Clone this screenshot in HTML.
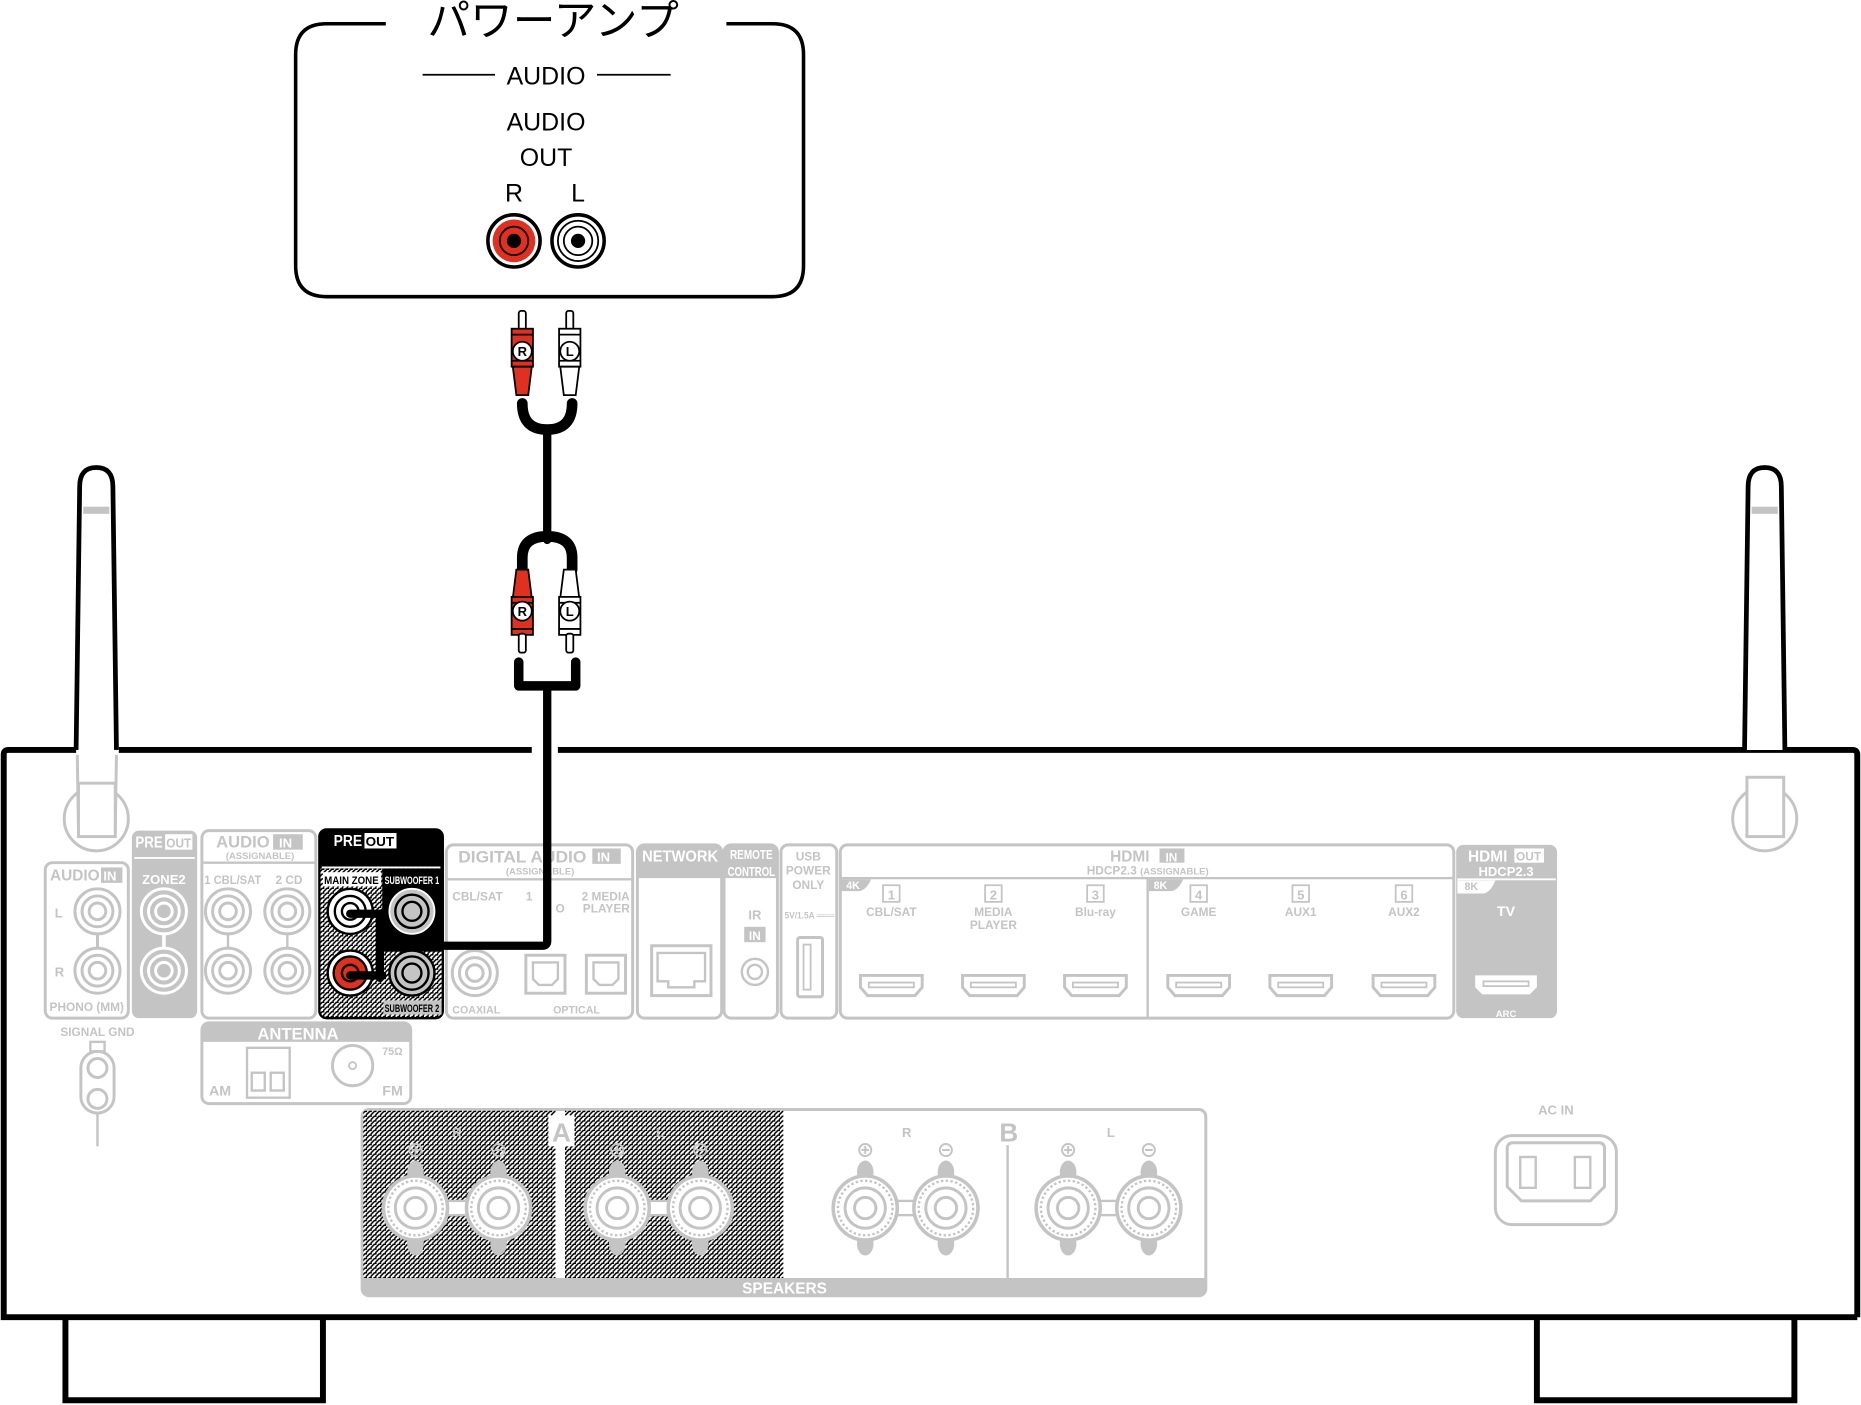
<!DOCTYPE html>
<html><head><meta charset="utf-8"><style>
html,body{margin:0;padding:0;background:#fff;}
svg{display:block;}
text{font-family:"Liberation Sans","Noto Sans CJK JP",sans-serif;}
</style></head><body>
<svg width="1861" height="1405" viewBox="0 0 1568 1184" xmlns="http://www.w3.org/2000/svg">
<defs>
<pattern id="hat" width="4" height="4" patternUnits="userSpaceOnUse">
<rect width="4" height="4" fill="#fff"/><path d="M0 4L4 0" stroke="#000" stroke-width="1.3"/><rect x="0" y="0" width="1.2" height="1.2" fill="#000"/>
</pattern>
<g id="gj"><circle r="19" fill="#fff" stroke="#c4c4c4" stroke-width="2.5"/><circle r="13" fill="none" stroke="#c4c4c4" stroke-width="2.5"/><circle r="7" fill="none" stroke="#c4c4c4" stroke-width="2.5"/></g>
<g id="term">
<ellipse cx="0" cy="-30" rx="7" ry="10" fill="#c4c4c4"/><ellipse cx="0" cy="30" rx="7" ry="10" fill="#c4c4c4"/>
<circle r="27" fill="#fff" stroke="#c4c4c4" stroke-width="3"/><circle r="23" fill="none" stroke="#c4c4c4" stroke-width="2" stroke-dasharray="2 2"/><circle r="17" fill="none" stroke="#c4c4c4" stroke-width="2.5"/><circle r="9" fill="none" stroke="#c4c4c4" stroke-width="2.5"/>
</g>
<g id="hdmi"><path d="M-26 -8H26V2L20 9H-20L-26 2Z" fill="#fff" stroke="#c4c4c4" stroke-width="2.5"/><rect x="-19" y="-2" width="38" height="4" fill="none" stroke="#c4c4c4" stroke-width="1.5"/></g>
</defs>

<!-- power amp box -->
<path d="M325 20H275Q249 20 249 46V224Q249 250 275 250H651Q677 250 677 224V46Q677 20 651 20H612" fill="none" stroke="#000" stroke-width="3"/>
<text x="466" y="30" font-size="36" text-anchor="middle">パワーアンプ</text>
<line x1="356" y1="63" x2="417" y2="63" stroke="#000" stroke-width="1.5"/>
<line x1="503" y1="63" x2="565" y2="63" stroke="#000" stroke-width="1.5"/>
<text x="460" y="71" font-size="21" text-anchor="middle">AUDIO</text>
<text x="460" y="110" font-size="21" text-anchor="middle">AUDIO</text>
<text x="460" y="140" font-size="21" text-anchor="middle">OUT</text>
<text x="433" y="170" font-size="21" text-anchor="middle">R</text>
<text x="487" y="170" font-size="21" text-anchor="middle">L</text>
<circle cx="433" cy="203" r="22" fill="#fff" stroke="#000" stroke-width="3"/><circle cx="433" cy="203" r="18" fill="#e03020"/><circle cx="433" cy="203" r="12" fill="none" stroke="#000" stroke-width="1.5"/><circle cx="433" cy="203" r="6" fill="#000"/>
<circle cx="487" cy="203" r="22" fill="#fff" stroke="#000" stroke-width="3"/><circle cx="487" cy="203" r="17" fill="none" stroke="#000" stroke-width="1.5"/><circle cx="487" cy="203" r="12" fill="none" stroke="#000" stroke-width="1.5"/><circle cx="487" cy="203" r="6" fill="#000"/>

<!-- device body -->
<path d="M1565 1110V636Q1565 632 1561 632H470M448 632H100M64 632H7Q3 632 3 636V1110H1565" fill="none" stroke="#000" stroke-width="5"/>
<path d="M55 1112V1180H272V1112" fill="none" stroke="#000" stroke-width="5"/>
<path d="M1295 1112V1180H1512V1112" fill="none" stroke="#000" stroke-width="5"/>
<!-- antennas -->
<g>
<path d="M64 632L67 410Q67 394 81 394Q95 394 95 410L98 632" fill="#fff" stroke="#000" stroke-width="4"/>
<rect x="70" y="427" width="22" height="6" fill="#c4c4c4"/>
<path d="M65 636L66 700H97L98 636" fill="#fff" stroke="#c4c4c4" stroke-width="2.5"/>
<circle cx="81" cy="690" r="27" fill="none" stroke="#c4c4c4" stroke-width="2.5"/>
<rect x="66" y="660" width="31" height="45" fill="#fff" stroke="#c4c4c4" stroke-width="2.5"/>
<path d="M1470 632L1473 410Q1473 394 1487 394Q1501 394 1501 410L1504 632" fill="#fff" stroke="#000" stroke-width="4"/>
<rect x="1476" y="427" width="22" height="6" fill="#c4c4c4"/>
<circle cx="1487" cy="690" r="27" fill="none" stroke="#c4c4c4" stroke-width="2.5"/>
<rect x="1472" y="655" width="31" height="50" fill="#fff" stroke="#c4c4c4" stroke-width="2.5"/>
</g>

<g font-weight="bold" fill="#c4c4c4">
<!-- phono -->
<rect x="38" y="727" width="70" height="131" rx="6" fill="#fff" stroke="#c4c4c4" stroke-width="2.5"/>
<text x="42" y="742" font-size="13">AUDIO</text><rect x="85" y="731" width="18" height="13" fill="#c4c4c4"/><text x="87" y="742" font-size="11" fill="#fff">IN</text>
<line x1="82" y1="768" x2="82" y2="818" stroke="#c4c4c4" stroke-width="2.5"/>
<use href="#gj" x="82" y="768"/><use href="#gj" x="82" y="818"/>
<text x="46" y="773" font-size="11">L</text><text x="46" y="823" font-size="11">R</text>
<text x="73" y="852" font-size="10" text-anchor="middle">PHONO (MM)</text>
<text x="82" y="873" font-size="10" text-anchor="middle">SIGNAL GND</text>
<rect x="76" y="878" width="12" height="8" fill="none" stroke="#c4c4c4" stroke-width="2"/>
<rect x="68" y="886" width="28" height="52" rx="14" fill="none" stroke="#c4c4c4" stroke-width="2.5"/>
<circle cx="82" cy="900" r="8" fill="none" stroke="#c4c4c4" stroke-width="2.5"/><circle cx="82" cy="926" r="8" fill="none" stroke="#c4c4c4" stroke-width="2.5"/>
<line x1="82" y1="938" x2="82" y2="966" stroke="#c4c4c4" stroke-width="2"/>
<!-- zone2 -->
<rect x="111" y="700" width="55" height="158" rx="6" fill="#c4c4c4"/>
<text x="114" y="714" font-size="13" fill="#fff" textLength="23" lengthAdjust="spacingAndGlyphs">PRE</text><rect x="139" y="703" width="23" height="13" fill="#fff"/><text x="140" y="714" font-size="11" textLength="21" lengthAdjust="spacingAndGlyphs">OUT</text>
<line x1="113" y1="723" x2="164" y2="723" stroke="#fff" stroke-width="1.5"/>
<text x="138" y="745" font-size="11" fill="#fff" text-anchor="middle">ZONE2</text>
<line x1="138" y1="768" x2="138" y2="818" stroke="#fff" stroke-width="3"/>
<g><circle cx="138" cy="768" r="19" fill="#c4c4c4" stroke="#fff" stroke-width="2.5"/><circle cx="138" cy="768" r="13" fill="none" stroke="#fff" stroke-width="2.5"/><circle cx="138" cy="768" r="7" fill="none" stroke="#fff" stroke-width="2.5"/></g>
<g><circle cx="138" cy="818" r="19" fill="#c4c4c4" stroke="#fff" stroke-width="2.5"/><circle cx="138" cy="818" r="13" fill="none" stroke="#fff" stroke-width="2.5"/><circle cx="138" cy="818" r="7" fill="none" stroke="#fff" stroke-width="2.5"/></g>
<!-- audio in assignable -->
<rect x="170" y="700" width="96" height="158" rx="6" fill="#fff" stroke="#c4c4c4" stroke-width="2.5"/>
<text x="182" y="714" font-size="14">AUDIO</text><rect x="230" y="703" width="25" height="13" fill="#c4c4c4"/><text x="235" y="714" font-size="11" fill="#fff">IN</text>
<text x="219" y="724" font-size="8" text-anchor="middle">(ASSIGNABLE)</text>
<line x1="171" y1="727" x2="265" y2="727" stroke="#c4c4c4" stroke-width="2"/>
<text x="172" y="745" font-size="10" textLength="48" lengthAdjust="spacingAndGlyphs">1 CBL/SAT</text><text x="232" y="745" font-size="10">2  CD</text>
<line x1="192" y1="768" x2="192" y2="818" stroke="#c4c4c4" stroke-width="2"/><line x1="242" y1="768" x2="242" y2="818" stroke="#c4c4c4" stroke-width="2"/>
<use href="#gj" x="192" y="768"/><use href="#gj" x="192" y="818"/><use href="#gj" x="242" y="768"/><use href="#gj" x="242" y="818"/>
<!-- antenna -->
<rect x="170" y="862" width="176" height="68" rx="6" fill="#fff" stroke="#c4c4c4" stroke-width="2.5"/>
<path d="M170 878V868Q170 862 176 862H340Q346 862 346 868V878Z" fill="#c4c4c4"/>
<text x="251" y="876" font-size="14" fill="#fff" text-anchor="middle">ANTENNA</text>
<text x="176" y="923" font-size="12">AM</text><text x="322" y="923" font-size="12">FM</text><text x="322" y="889" font-size="9">75Ω</text>
<rect x="208" y="883" width="36" height="42" fill="none" stroke="#c4c4c4" stroke-width="2"/>
<rect x="212" y="904" width="11" height="15" fill="none" stroke="#c4c4c4" stroke-width="2"/><rect x="228" y="904" width="11" height="15" fill="none" stroke="#c4c4c4" stroke-width="2"/>
<circle cx="297" cy="898" r="17" fill="none" stroke="#c4c4c4" stroke-width="2.5"/><circle cx="297" cy="898" r="3" fill="none" stroke="#c4c4c4" stroke-width="1.5"/>
<!-- digital audio in -->
<rect x="376" y="712" width="157" height="146" rx="6" fill="#fff" stroke="#c4c4c4" stroke-width="2.5"/>
<text x="386" y="727" font-size="14" textLength="108" lengthAdjust="spacingAndGlyphs">DIGITAL AUDIO</text><rect x="499" y="715" width="24" height="13" fill="#c4c4c4"/><text x="503" y="726" font-size="11" fill="#fff">IN</text>
<text x="455" y="737" font-size="8" text-anchor="middle">(ASSIGNABLE)</text>
<line x1="377" y1="741" x2="532" y2="741" stroke="#c4c4c4" stroke-width="2"/>
<text x="381" y="759" font-size="10">CBL/SAT</text><text x="443" y="759" font-size="10">1</text><text x="490" y="759" font-size="10">2 MEDIA</text><text x="491" y="769" font-size="10">PLAYER</text><text x="468" y="769" font-size="10">O</text>
<use href="#gj" x="400" y="820"/>
<rect x="443" y="805" width="33" height="32" fill="#fff" stroke="#c4c4c4" stroke-width="2.5"/><path d="M449 811H470V825L465 830H454L449 825Z" fill="none" stroke="#c4c4c4" stroke-width="2"/>
<rect x="494" y="805" width="33" height="32" fill="#fff" stroke="#c4c4c4" stroke-width="2.5"/><path d="M500 811H521V825L516 830H505L500 825Z" fill="none" stroke="#c4c4c4" stroke-width="2"/>
<text x="381" y="854" font-size="9">COAXIAL</text><text x="466" y="854" font-size="9">OPTICAL</text>
<!-- network -->
<rect x="537" y="712" width="71" height="146" rx="6" fill="#fff" stroke="#c4c4c4" stroke-width="2.5"/>
<path d="M537 740V718Q537 712 543 712H602Q608 712 608 718V740Z" fill="#c4c4c4"/>
<text x="573" y="726" font-size="13" fill="#fff" text-anchor="middle" textLength="64" lengthAdjust="spacingAndGlyphs">NETWORK</text>
<rect x="549" y="797" width="50" height="42" fill="none" stroke="#c4c4c4" stroke-width="2.5"/><path d="M554 803H594V827H585V832H563V827H554Z" fill="none" stroke="#c4c4c4" stroke-width="2"/>
<!-- remote -->
<rect x="610" y="712" width="45" height="146" rx="6" fill="#fff" stroke="#c4c4c4" stroke-width="2.5"/>
<path d="M610 740V718Q610 712 616 712H649Q655 712 655 718V740Z" fill="#c4c4c4"/>
<text x="633" y="724" font-size="11" fill="#fff" text-anchor="middle" textLength="36" lengthAdjust="spacingAndGlyphs">REMOTE</text><text x="633" y="738" font-size="11" fill="#fff" text-anchor="middle" textLength="40" lengthAdjust="spacingAndGlyphs">CONTROL</text>
<text x="636" y="775" font-size="11" text-anchor="middle">IR</text><rect x="627" y="781" width="18" height="13" fill="#c4c4c4"/><text x="636" y="792" font-size="10" fill="#fff" text-anchor="middle">IN</text>
<circle cx="636" cy="819" r="11" fill="none" stroke="#c4c4c4" stroke-width="2"/><circle cx="636" cy="819" r="6" fill="none" stroke="#c4c4c4" stroke-width="2"/>
<!-- usb -->
<rect x="658" y="712" width="47" height="146" rx="6" fill="#fff" stroke="#c4c4c4" stroke-width="2.5"/>
<text x="681" y="725" font-size="10" text-anchor="middle">USB</text><text x="681" y="737" font-size="10" text-anchor="middle">POWER</text><text x="681" y="749" font-size="10" text-anchor="middle">ONLY</text>
<text x="661" y="774" font-size="8" textLength="42" lengthAdjust="spacingAndGlyphs">5V/1.5A ═══</text>
<rect x="672" y="790" width="21" height="50" rx="2" fill="none" stroke="#c4c4c4" stroke-width="2.5"/><rect x="677" y="796" width="6" height="38" fill="none" stroke="#c4c4c4" stroke-width="1.5"/>
<!-- hdmi in -->
<rect x="708" y="712" width="517" height="146" rx="6" fill="#fff" stroke="#c4c4c4" stroke-width="2.5"/>
<line x1="709" y1="740" x2="1224" y2="740" stroke="#c4c4c4" stroke-width="2"/>
<line x1="967" y1="740" x2="967" y2="858" stroke="#c4c4c4" stroke-width="2"/>
<text x="952" y="726" font-size="13" text-anchor="middle">HDMI</text><rect x="977" y="715" width="21" height="12" fill="#c4c4c4"/><text x="987" y="726" font-size="10" fill="#fff" text-anchor="middle">IN</text>
<text x="967" y="737" font-size="10" text-anchor="middle">HDCP2.3 <tspan font-size="8">(ASSIGNABLE)</tspan></text>
<path d="M709 741H734Q730 750 724 751H709Z" fill="#c4c4c4"/><text x="713" y="749" font-size="9" fill="#fff">4K</text>
<path d="M968 741H997Q993 750 987 751H968Z" fill="#c4c4c4"/><text x="972" y="749" font-size="9" fill="#fff">8K</text>
<g font-size="11" text-anchor="middle">
<rect x="744" y="746" width="14" height="14" fill="none" stroke="#c4c4c4" stroke-width="1.5"/><text x="751" y="758">1</text><text x="751" y="772" font-size="10">CBL/SAT</text>
<rect x="830" y="746" width="14" height="14" fill="none" stroke="#c4c4c4" stroke-width="1.5"/><text x="837" y="758">2</text><text x="837" y="772" font-size="10">MEDIA</text><text x="837" y="783" font-size="10">PLAYER</text>
<rect x="916" y="746" width="14" height="14" fill="none" stroke="#c4c4c4" stroke-width="1.5"/><text x="923" y="758">3</text><text x="923" y="772" font-size="10">Blu-ray</text>
<rect x="1003" y="746" width="14" height="14" fill="none" stroke="#c4c4c4" stroke-width="1.5"/><text x="1010" y="758">4</text><text x="1010" y="772" font-size="10">GAME</text>
<rect x="1089" y="746" width="14" height="14" fill="none" stroke="#c4c4c4" stroke-width="1.5"/><text x="1096" y="758">5</text><text x="1096" y="772" font-size="10">AUX1</text>
<rect x="1176" y="746" width="14" height="14" fill="none" stroke="#c4c4c4" stroke-width="1.5"/><text x="1183" y="758">6</text><text x="1183" y="772" font-size="10">AUX2</text>
</g>
<use href="#hdmi" x="751" y="830"/><use href="#hdmi" x="837" y="830"/><use href="#hdmi" x="923" y="830"/><use href="#hdmi" x="1010" y="830"/><use href="#hdmi" x="1096" y="830"/><use href="#hdmi" x="1183" y="830"/>
<!-- hdmi out -->
<rect x="1227" y="712" width="85" height="146" rx="6" fill="#c4c4c4"/>
<text x="1237" y="726" font-size="13" fill="#fff">HDMI</text><rect x="1276" y="715" width="25" height="12" fill="#fff"/><text x="1288" y="725" font-size="10" text-anchor="middle">OUT</text>
<text x="1269" y="738" font-size="11" fill="#fff" text-anchor="middle">HDCP2.3</text>
<line x1="1228" y1="741" x2="1311" y2="741" stroke="#fff" stroke-width="1.5"/>
<path d="M1228 742H1260Q1256 752 1250 753H1228Z" fill="#fff"/><text x="1234" y="750" font-size="9">8K</text>
<text x="1269" y="772" font-size="12" fill="#fff" text-anchor="middle">TV</text>
<path d="M1243 822H1295V832L1289 838H1249L1243 832Z" fill="#fff"/><rect x="1250" y="827" width="38" height="4" fill="none" stroke="#c4c4c4" stroke-width="1.5"/>
<text x="1269" y="857" font-size="8" fill="#fff" text-anchor="middle">ARC</text>
<!-- AC IN -->
<text x="1311" y="939" font-size="11" text-anchor="middle">AC IN</text>
<rect x="1260" y="957" width="102" height="75" rx="14" fill="#fff" stroke="#c4c4c4" stroke-width="2.5"/>
<path d="M1275 963H1347Q1352 963 1352 968V1000L1340 1012H1282L1270 1000V968Q1270 963 1275 963Z" fill="none" stroke="#c4c4c4" stroke-width="2.5"/>
<rect x="1281" y="975" width="13" height="26" fill="none" stroke="#c4c4c4" stroke-width="2"/><rect x="1327" y="975" width="13" height="26" fill="none" stroke="#c4c4c4" stroke-width="2"/>
<!-- speakers -->
<rect x="305" y="935" width="711" height="157" rx="6" fill="#fff" stroke="#c4c4c4" stroke-width="2.5"/>
<rect x="306" y="936" width="162" height="141" fill="url(#hat)"/>
<rect x="476" y="936" width="184" height="141" fill="url(#hat)"/>
<path d="M305 1077H1016V1086Q1016 1092 1010 1092H311Q305 1092 305 1086Z" fill="#c4c4c4"/>
<text x="661" y="1090" font-size="13" fill="#fff" text-anchor="middle">SPEAKERS</text>
<line x1="849" y1="965" x2="849" y2="1077" stroke="#c4c4c4" stroke-width="2"/>
<rect x="462" y="940" width="22" height="26" fill="#fff"/><text x="473" y="962" font-size="22" text-anchor="middle">A</text>
<text x="850" y="962" font-size="22" text-anchor="middle">B</text>
<g font-size="11" text-anchor="middle"><text x="385" y="958">R</text><text x="556" y="958">L</text><text x="764" y="958">R</text><text x="936" y="958">L</text></g>
<g font-size="16" text-anchor="middle">
<text x="350" y="975">⊕</text><text x="420" y="975">⊖</text><text x="520" y="975">⊕</text><text x="590" y="975">⊖</text>
<text x="729" y="975">⊕</text><text x="797" y="975">⊖</text><text x="900" y="975">⊕</text><text x="968" y="975">⊖</text></g>
<rect x="375" y="1012" width="20" height="12" fill="#fff" stroke="#c4c4c4" stroke-width="2"/><rect x="545" y="1012" width="20" height="12" fill="#fff" stroke="#c4c4c4" stroke-width="2"/><rect x="753" y="1012" width="20" height="12" fill="#fff" stroke="#c4c4c4" stroke-width="2"/><rect x="924" y="1012" width="20" height="12" fill="#fff" stroke="#c4c4c4" stroke-width="2"/>
<use href="#term" x="350" y="1018"/><use href="#term" x="420" y="1018"/><use href="#term" x="520" y="1018"/><use href="#term" x="590" y="1018"/>
<use href="#term" x="729" y="1018"/><use href="#term" x="797" y="1018"/><use href="#term" x="900" y="1018"/><use href="#term" x="968" y="1018"/>
</g>

<!-- PRE OUT highlighted -->
<rect x="269" y="699" width="104" height="159" rx="6" fill="url(#hat)" stroke="#000" stroke-width="2"/>
<path d="M269 732V705Q269 699 275 699H367Q373 699 373 705V732Z" fill="#000"/>
<rect x="322" y="732" width="51" height="70" fill="#000"/>
<text x="281" y="713" font-size="13" font-weight="bold" fill="#fff" textLength="24" lengthAdjust="spacingAndGlyphs">PRE</text><rect x="307" y="702" width="27" height="13" fill="#fff"/><text x="320" y="713" font-size="11" font-weight="bold" text-anchor="middle" textLength="24" lengthAdjust="spacingAndGlyphs">OUT</text>
<line x1="271" y1="731" x2="371" y2="731" stroke="#fff" stroke-width="1.5"/>
<rect x="272" y="735" width="49" height="12" fill="#fff"/><text x="296" y="745" font-size="9" font-weight="bold" text-anchor="middle" textLength="46" lengthAdjust="spacingAndGlyphs">MAIN ZONE</text>
<text x="347" y="745" font-size="9" font-weight="bold" fill="#fff" text-anchor="middle" textLength="46" lengthAdjust="spacingAndGlyphs">SUBWOOFER 1</text>
<rect x="323" y="843" width="49" height="12" fill="#c4c4c4"/><text x="347" y="853" font-size="9" font-weight="bold" text-anchor="middle" textLength="46" lengthAdjust="spacingAndGlyphs">SUBWOOFER 2</text>
<circle cx="347" cy="768" r="19" fill="#c4c4c4" stroke="#fff" stroke-width="1.5"/><circle cx="347" cy="768" r="14" fill="none" stroke="#000" stroke-width="2"/><circle cx="347" cy="768" r="8" fill="#c4c4c4" stroke="#000" stroke-width="2"/>
<circle cx="347" cy="820" r="19" fill="#c4c4c4" stroke="#000" stroke-width="2"/><circle cx="347" cy="820" r="14" fill="none" stroke="#000" stroke-width="2"/><circle cx="347" cy="820" r="8" fill="#c4c4c4" stroke="#000" stroke-width="2"/>
<circle cx="295" cy="768" r="19" fill="#fff" stroke="#000" stroke-width="2"/><circle cx="295" cy="768" r="13" fill="none" stroke="#000" stroke-width="2"/><circle cx="295" cy="768" r="7" fill="#fff" stroke="#000" stroke-width="2"/>
<circle cx="295" cy="820" r="19" fill="#fff" stroke="#000" stroke-width="2"/><circle cx="295" cy="820" r="14" fill="#e03020" stroke="#000" stroke-width="2"/><circle cx="295" cy="820" r="7" fill="#e03020" stroke="#000" stroke-width="2"/>

<!-- cable -->
<g fill="none" stroke="#000" stroke-linecap="round" stroke-linejoin="round">
<path d="M461 580V793Q461 797 457 797H320" stroke-width="7"/>
<path d="M320 770V824" stroke-width="7"/>
<path d="M295 770H322M295 822H322" stroke-width="7"/>
<path d="M437 558V578H485V558" stroke-width="8"/>
<path d="M461 365V455" stroke-width="7"/>
<path d="M440 340Q440 362 461 362Q482 362 482 340" stroke-width="9"/>
<path d="M440 480V470Q440 452 461 452Q482 452 482 470V480" stroke-width="9"/>
</g>
<g stroke="#000" stroke-width="1.5">
<rect x="437" y="262" width="6" height="16" rx="2" fill="#fff"/>
<rect x="431" y="277" width="18" height="32" fill="#e03020"/>
<line x1="431" y1="282" x2="449" y2="282"/><line x1="431" y1="304" x2="449" y2="304"/>
<path d="M432 309H448L445 333H435Z" fill="#e03020"/>
<rect x="477" y="262" width="6" height="16" rx="2" fill="#fff"/>
<rect x="471" y="277" width="18" height="32" fill="#fff"/>
<line x1="471" y1="282" x2="489" y2="282"/><line x1="471" y1="304" x2="489" y2="304"/>
<path d="M472 309H488L485 333H475Z" fill="#fff"/>
<circle cx="440" cy="296" r="8" fill="#fff"/><circle cx="480" cy="296" r="8" fill="#fff"/>
<path d="M435 480H445L448 504H432Z" fill="#e03020"/>
<rect x="431" y="503" width="18" height="32" fill="#e03020"/>
<line x1="431" y1="508" x2="449" y2="508"/><line x1="431" y1="530" x2="449" y2="530"/>
<rect x="437" y="534" width="6" height="16" rx="2" fill="#fff"/>
<path d="M475 480H485L488 504H472Z" fill="#fff"/>
<rect x="471" y="503" width="18" height="32" fill="#fff"/>
<line x1="471" y1="508" x2="489" y2="508"/><line x1="471" y1="530" x2="489" y2="530"/>
<rect x="477" y="534" width="6" height="16" rx="2" fill="#fff"/>
<circle cx="440" cy="515" r="8" fill="#fff"/><circle cx="480" cy="515" r="8" fill="#fff"/>
</g>
<g font-size="11" font-weight="bold" text-anchor="middle">
<text x="440" y="300">R</text><text x="480" y="300">L</text><text x="440" y="519">R</text><text x="480" y="519">L</text>
</g>
</svg>
</body></html>
